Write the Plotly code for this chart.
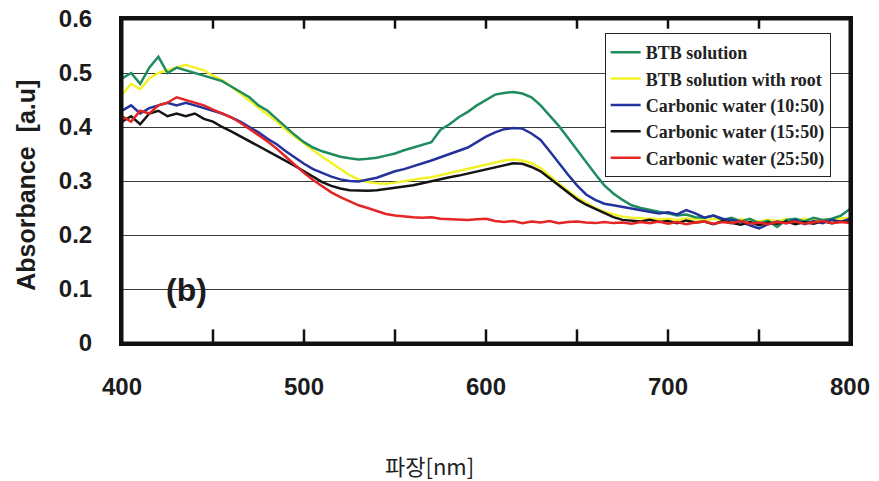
import plotly.graph_objects as go

wavelength = list(range(400, 801, 5))

btb_solution = [
    0.49, 0.50, 0.48, 0.51, 0.53, 0.50, 0.51, 0.505, 0.50, 0.495,
    0.49, 0.485, 0.475, 0.465, 0.455, 0.44, 0.43, 0.415, 0.40, 0.385,
    0.372, 0.362, 0.355, 0.350, 0.345, 0.342, 0.340, 0.341, 0.343, 0.347,
    0.351, 0.357, 0.362, 0.366, 0.372, 0.395, 0.405, 0.418, 0.428, 0.440,
    0.450, 0.460, 0.463, 0.465, 0.462, 0.455, 0.440, 0.422, 0.402, 0.380,
    0.357, 0.335, 0.313, 0.292, 0.277, 0.265, 0.255, 0.250, 0.246, 0.243,
    0.240, 0.236, 0.238, 0.233, 0.232, 0.236, 0.228, 0.232, 0.225, 0.230,
    0.222, 0.226, 0.215, 0.228, 0.230, 0.225, 0.232, 0.228, 0.230, 0.236,
    0.248,
]

btb_with_root = [
    0.46, 0.48, 0.47, 0.49, 0.50, 0.505, 0.51, 0.515, 0.51, 0.505,
    0.495, 0.487, 0.475, 0.462, 0.450, 0.437, 0.424, 0.410, 0.395, 0.382,
    0.370, 0.357, 0.345, 0.334, 0.322, 0.311, 0.303, 0.298, 0.296, 0.295,
    0.297, 0.300, 0.302, 0.305, 0.307, 0.311, 0.315, 0.319, 0.322, 0.326,
    0.330, 0.334, 0.338, 0.340, 0.338, 0.333, 0.324, 0.310, 0.295, 0.282,
    0.270, 0.260, 0.250, 0.243, 0.238, 0.234, 0.232, 0.231, 0.230, 0.229,
    0.230, 0.228, 0.231, 0.229, 0.227, 0.230, 0.228, 0.226, 0.229, 0.227,
    0.225, 0.228, 0.226, 0.229, 0.227, 0.230, 0.228, 0.226, 0.229, 0.231,
    0.232,
]

carbonic_10_50 = [
    0.43, 0.44, 0.425, 0.435, 0.44, 0.445, 0.44, 0.445, 0.44, 0.435,
    0.43, 0.425, 0.418, 0.41, 0.40, 0.39, 0.378, 0.368, 0.355, 0.343,
    0.332, 0.322, 0.315, 0.308, 0.303, 0.300, 0.299, 0.302, 0.306, 0.312,
    0.318, 0.322, 0.327, 0.333, 0.338, 0.344, 0.350, 0.356, 0.362, 0.372,
    0.382, 0.390, 0.396, 0.398, 0.397, 0.388, 0.376, 0.355, 0.333, 0.312,
    0.292, 0.275, 0.265, 0.258, 0.255, 0.252, 0.250, 0.246, 0.244, 0.240,
    0.242, 0.238, 0.246, 0.240, 0.232, 0.236, 0.230, 0.228, 0.225, 0.218,
    0.212, 0.220, 0.225, 0.222, 0.228, 0.220, 0.226, 0.222, 0.228, 0.224,
    0.230,
]

carbonic_15_50 = [
    0.41, 0.42, 0.405, 0.425, 0.43, 0.42, 0.425, 0.42, 0.425, 0.415,
    0.41, 0.40, 0.392, 0.383, 0.373, 0.365, 0.356, 0.347, 0.338, 0.328,
    0.318, 0.308, 0.298, 0.291, 0.286, 0.283, 0.282, 0.282, 0.283, 0.285,
    0.287, 0.289, 0.292, 0.296, 0.300, 0.304, 0.307, 0.310, 0.314, 0.318,
    0.322, 0.326, 0.330, 0.333, 0.332, 0.326, 0.318, 0.305, 0.293, 0.280,
    0.266, 0.256, 0.248, 0.240, 0.233, 0.228, 0.227, 0.225, 0.228, 0.224,
    0.226, 0.222, 0.227, 0.223, 0.225, 0.220, 0.226, 0.222, 0.219, 0.224,
    0.218, 0.223, 0.221, 0.225, 0.220, 0.224, 0.221, 0.226, 0.222, 0.225,
    0.224,
]

carbonic_25_50 = [
    0.42, 0.41, 0.43, 0.425, 0.44, 0.445, 0.455, 0.45, 0.445, 0.44,
    0.432, 0.425, 0.418, 0.408, 0.397, 0.385, 0.373, 0.360, 0.345, 0.330,
    0.315, 0.302, 0.290, 0.279, 0.270, 0.262, 0.255, 0.250, 0.244, 0.239,
    0.236, 0.234, 0.233, 0.232, 0.233, 0.230, 0.229, 0.228, 0.228, 0.229,
    0.230, 0.226, 0.224, 0.226, 0.222, 0.225, 0.223, 0.226, 0.222, 0.224,
    0.225, 0.223, 0.222, 0.224, 0.222, 0.223, 0.221, 0.224, 0.222, 0.225,
    0.221, 0.224, 0.220, 0.223, 0.225, 0.221, 0.224, 0.222, 0.226, 0.221,
    0.223, 0.220, 0.224, 0.222, 0.225, 0.221, 0.223, 0.226, 0.222, 0.224,
    0.222,
]

series_names = [
    "BTB solution",
    "BTB solution with root",
    "Carbonic water (10:50)",
    "Carbonic water (15:50)",
    "Carbonic water (25:50)",
]
series_values = [btb_solution, btb_with_root, carbonic_10_50, carbonic_15_50, carbonic_25_50]
series_colors = ["#1e8c5e", "#f2f22a", "#23329c", "#141414", "#e52424"]
draw_order = [1, 0, 2, 3, 4]

y_tick_vals = [0, 0.1, 0.2, 0.3, 0.4, 0.5, 0.6]
y_tick_text = ["0", "0.1", "0.2", "0.3", "0.4", "0.5", "0.6"]
x_tick_vals = [400, 500, 600, 700, 800]
x_minor_tick_vals = [450, 500, 550, 600, 650, 700, 750]

x_title = "파장[nm]"
y_title = "Absorbance\u00a0\u00a0[a.u]"
panel_label = "(b)"

fig = go.Figure()
for i in draw_order:
    fig.add_trace(go.Scatter(
        x=wavelength, y=series_values[i], mode="lines", name=series_names[i],
        line=dict(color=series_colors[i], width=2.5), legendrank=i + 1,
    ))

axis_font = dict(family="Liberation Sans, Arial", size=24, color="#1c1c1c", weight="bold")

# inward tick marks on the bottom and top frame (drawn as axis decorations)
tick_shapes = []
for xv in x_minor_tick_vals:
    tick_shapes.append(dict(type="line", xref="x", yref="paper", x0=xv, x1=xv, y0=0, y1=0.042,
                            line=dict(color="#111", width=2.5), layer="above"))
    tick_shapes.append(dict(type="line", xref="x", yref="paper", x0=xv, x1=xv, y0=0.97, y1=1,
                            line=dict(color="#111", width=2.5), layer="above"))

fig.update_layout(
    width=879, height=481,
    margin=dict(l=122, r=29, t=19, b=138, autoexpand=False),
    paper_bgcolor="white", plot_bgcolor="white",
    showlegend=True,
    legend=dict(
        x=0.663, y=0.957, xanchor="left", yanchor="top",
        bgcolor="white", bordercolor="#222", borderwidth=1,
        font=dict(family="Liberation Serif, Times New Roman", size=18, color="#222", weight="bold"),
        traceorder="normal", tracegroupgap=0,
    ),
    xaxis=dict(
        range=[400, 800], tickvals=x_tick_vals, ticks="outside", ticklen=20,
        tickcolor="rgba(0,0,0,0)", showline=True, linewidth=3, linecolor="#111",
        mirror=True, showgrid=False, zeroline=False, tickfont=axis_font, automargin=False,
    ),
    yaxis=dict(
        range=[0, 0.6], tickvals=y_tick_vals, ticktext=y_tick_text, ticks="outside", ticklen=22,
        tickcolor="rgba(0,0,0,0)", showline=True, linewidth=3, linecolor="#111", mirror=True,
        showgrid=True, gridcolor="#3a3a3a", gridwidth=1.3, zeroline=False, tickfont=axis_font,
        automargin=False,
    ),
    shapes=[
        dict(type="rect", xref="paper", yref="paper", x0=0, y0=0, x1=1, y1=1,
             line=dict(color="#111", width=3), fillcolor="rgba(0,0,0,0)", layer="above"),
    ] + tick_shapes,
    annotations=[
        dict(text=y_title, xref="paper", yref="paper", x=-0.132, y=0.488, xanchor="center",
             yanchor="middle", textangle=-90, showarrow=False,
             font=dict(family="Liberation Sans, Arial", size=25, color="#1c1c1c", weight="bold")),
        dict(text=x_title, xref="paper", yref="paper", x=0.423, y=-0.377, xanchor="center",
             yanchor="middle", showarrow=False,
             font=dict(family="Noto Sans CJK KR", size=22, color="#222")),
        dict(text=panel_label, xref="x", yref="y", x=435.7, y=0.098, xanchor="center",
             yanchor="middle", showarrow=False,
             font=dict(family="Liberation Sans, Arial", size=32, color="#1c1c1c", weight="bold")),
    ],
)

fig.write_html("out.html", config={"displayModeBar": False},
               post_script="document.body.style.margin='0';")
